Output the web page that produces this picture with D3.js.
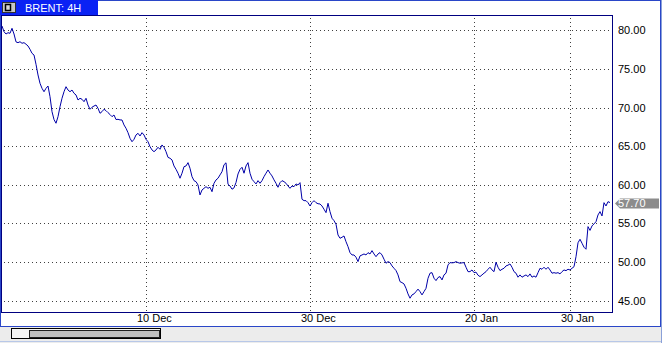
<!DOCTYPE html>
<html>
<head>
<meta charset="utf-8">
<script src="https://cdn.jsdelivr.net/npm/d3@7"></script>
<style>
  body { margin: 0; background: #fff; }
  text { font-family: "Liberation Sans", Arial, sans-serif; font-size: 11px; }
</style>
</head>
<body>
<script>
// BRENT 4H closes, one value per bar
var prices = [
  80.56, 79.82, 79.52, 79.69, 79.61, 80.26, 79.52, 78.50, 78.40, 78.52,
  78.32, 78.40, 78.20, 77.97, 77.54, 77.02, 76.80, 75.60, 74.22, 73.14,
  72.49, 72.05, 72.49, 72.79, 71.41, 69.47, 68.45, 67.97, 68.82, 70.11,
  71.20, 72.05, 72.70, 72.27, 72.05, 72.27, 71.85, 71.63, 70.98, 71.20,
  71.07, 70.76, 71.20, 70.33, 69.78, 70.04, 70.20, 70.33, 69.91, 69.26,
  69.47, 69.78, 69.60, 69.34, 69.10, 68.82, 69.04, 68.45, 68.48, 68.40,
  68.39, 67.75, 67.32, 66.75, 66.02, 65.58, 65.89, 66.45, 66.67, 66.32,
  66.75, 66.45, 65.89, 65.58, 64.94, 64.51, 64.29, 64.51, 64.86, 64.60,
  65.16, 64.86, 64.29, 63.55, 63.44, 63.22, 62.44, 62.01, 61.50, 60.85,
  61.50, 62.35, 62.44, 62.87, 62.14, 61.06, 60.54, 60.41, 59.98, 58.69,
  59.33, 59.55, 59.76, 59.55, 59.68, 59.11, 60.20, 60.63, 60.85, 61.28,
  61.70, 62.60, 62.85, 60.07, 59.85, 59.43, 59.60, 60.30, 61.40, 62.00,
  62.27, 61.50, 62.44, 62.87, 61.50, 60.72, 60.41, 60.11, 60.54, 60.20,
  60.54, 61.06, 61.50, 61.92, 61.50, 61.15, 60.64, 60.20, 59.68, 60.28,
  60.54, 60.41, 60.20, 59.85, 59.55, 59.85, 59.76, 60.11, 59.98, 60.28,
  58.13, 57.95, 57.95, 57.69, 57.26, 57.69, 57.95, 57.69, 57.55, 57.52,
  57.26, 56.84, 56.40, 57.61, 56.53, 55.67, 55.36, 54.90, 53.51, 53.08,
  53.21, 53.38, 52.64, 52.00, 51.22, 50.92, 50.92, 50.63, 50.06, 50.80,
  50.92, 51.05, 50.92, 51.22, 51.05, 51.48, 51.05, 50.70, 51.05, 51.22,
  50.92, 50.37, 49.85, 50.06, 49.93, 49.50, 49.20, 48.90, 48.34, 47.47,
  47.34, 47.17, 46.61, 45.88, 45.32, 45.75, 45.88, 46.18, 46.50, 46.18,
  45.75, 46.18, 46.60, 47.90, 48.56, 48.63, 47.91, 47.60, 48.00, 48.12,
  47.69, 48.34, 48.56, 49.63, 49.93, 49.90, 49.93, 50.06, 49.93, 49.85,
  49.90, 49.93, 49.33, 48.76, 48.76, 48.98, 48.63, 48.70, 48.30, 48.12,
  48.34, 48.56, 48.76, 49.07, 49.33, 48.98, 48.76, 49.98, 49.33, 48.89,
  49.07, 49.20, 49.50, 49.60, 49.76, 49.33, 48.76, 48.56, 48.04, 48.34,
  48.04, 48.20, 48.34, 48.12, 48.47, 48.04, 48.20, 48.04, 48.63, 49.20,
  49.07, 49.33, 49.07, 49.33, 48.98, 48.56, 48.63, 48.56, 48.63, 48.47,
  48.76, 48.98, 48.89, 49.07, 48.98, 49.20, 49.40, 50.70, 52.50, 52.95,
  52.44, 51.92, 51.66, 54.59, 54.10, 54.68, 54.94, 55.23, 56.10, 56.53,
  55.97, 57.69, 57.26, 57.82, 57.70
];

var dateLabels = ['10 Dec', '30 Dec', '20 Jan', '30 Jan'];
var dateBars = [72, 154, 236, 284];
var priceTicks = [80, 75, 70, 65, 60, 55, 50, 45];
var lastPrice = 57.70;
var title = 'BRENT: 4H';

var W = 662, H = 343;
var plot = {left: 1.5, top: 15.5, right: 612.5, bottom: 312.5};

var svg = d3.select('body').append('svg')
    .attr('width', W)
    .attr('height', H);

var x = d3.scaleLinear().domain([0, 305]).range([2, 612]);
var y = d3.scaleLinear().domain([45, 80]).range([300.7, 30.3]);

// outer window
svg.append('rect')
    .attr('x', 0.5).attr('y', 0.5)
    .attr('width', 660).attr('height', 326)
    .attr('fill', '#fff')
    .attr('stroke', '#2a46c8');

// bottom scroll strip
svg.append('rect')
    .attr('x', 0).attr('y', 327)
    .attr('width', W).attr('height', 16)
    .attr('fill', '#ececec');
svg.append('line')
    .attr('x1', 0).attr('x2', W)
    .attr('y1', 341.5).attr('y2', 341.5)
    .attr('stroke', '#b8c8e8');
svg.append('line')
    .attr('x1', 661.5).attr('x2', 661.5)
    .attr('y1', 0).attr('y2', H)
    .attr('stroke', '#8aa0d8');

svg.append('rect')
    .attr('x', 11.5).attr('y', 328.5)
    .attr('width', 149).attr('height', 10)
    .attr('fill', '#f4f4f4')
    .attr('stroke', '#000');
svg.append('rect')
    .attr('x', 29.5).attr('y', 330.5)
    .attr('width', 130).attr('height', 7)
    .attr('fill', '#c0c0c0')
    .attr('stroke', '#202020');

// grid
var grid = svg.append('g')
    .attr('stroke', '#404040')
    .attr('stroke-dasharray', '1,3')
    .attr('shape-rendering', 'crispEdges');

grid.selectAll('.hg').data(priceTicks).enter().append('line')
    .attr('x1', plot.left + 2).attr('x2', plot.right)
    .attr('y1', function(d) { return Math.round(y(d)) + 0.5; })
    .attr('y2', function(d) { return Math.round(y(d)) + 0.5; });

grid.selectAll('.vg').data(dateBars).enter().append('line')
    .attr('x1', function(d) { return Math.round(x(d)) + 0.5; })
    .attr('x2', function(d) { return Math.round(x(d)) + 0.5; })
    .attr('y1', plot.top + 2).attr('y2', plot.bottom);

// price line
var line = d3.line()
    .x(function(d, i) { return x(i); })
    .y(function(d) { return y(d); });

svg.append('path')
    .datum(prices)
    .attr('d', line)
    .attr('fill', 'none')
    .attr('stroke', '#0000a8')
    .attr('stroke-width', 1);

// plot frame
svg.append('rect')
    .attr('x', plot.left).attr('y', plot.top)
    .attr('width', plot.right - plot.left)
    .attr('height', plot.bottom - plot.top)
    .attr('fill', 'none')
    .attr('stroke', '#000080')
    .attr('shape-rendering', 'crispEdges');

// right axis labels
svg.selectAll('.yl').data(priceTicks).enter().append('text')
    .attr('x', 618)
    .attr('y', function(d) { return y(d) + 4; })
    .attr('fill', '#000')
    .text(function(d) { return d.toFixed(2); });

// bottom date labels
svg.selectAll('.xl').data(dateBars).enter().append('text')
    .attr('x', function(d) { return x(d) - 9; })
    .attr('y', 322)
    .attr('fill', '#000')
    .text(function(d, i) { return dateLabels[i]; });

// last price marker
var ly = Math.round(y(lastPrice));
svg.append('path')
    .attr('d', 'M615,' + (ly + 0.5) + 'L620,' + (ly - 4.5) + 'L659,' + (ly - 4.5) +
               'L659,' + (ly + 5.5) + 'L620,' + (ly + 5.5) + 'Z')
    .attr('fill', '#8c8c8c');
svg.append('text')
    .attr('x', 618)
    .attr('y', ly + 4)
    .attr('fill', '#fff')
    .text(lastPrice.toFixed(2));

// title tab
svg.append('rect')
    .attr('x', 0).attr('y', 0)
    .attr('width', 98).attr('height', 15)
    .attr('fill', '#0a22f4');
svg.append('rect')
    .attr('x', 2.5).attr('y', 2.5)
    .attr('width', 13).attr('height', 10)
    .attr('fill', '#c8c8c8')
    .attr('stroke', '#303030');
svg.append('rect')
    .attr('x', 5.5).attr('y', 4.5)
    .attr('width', 5).attr('height', 6)
    .attr('fill', '#d8d8d8')
    .attr('stroke', '#000')
    .attr('stroke-width', 1.5);
svg.append('text')
    .attr('x', 25)
    .attr('y', 12)
    .attr('fill', '#fff')
    .text(title);
</script>
</body>
</html>
